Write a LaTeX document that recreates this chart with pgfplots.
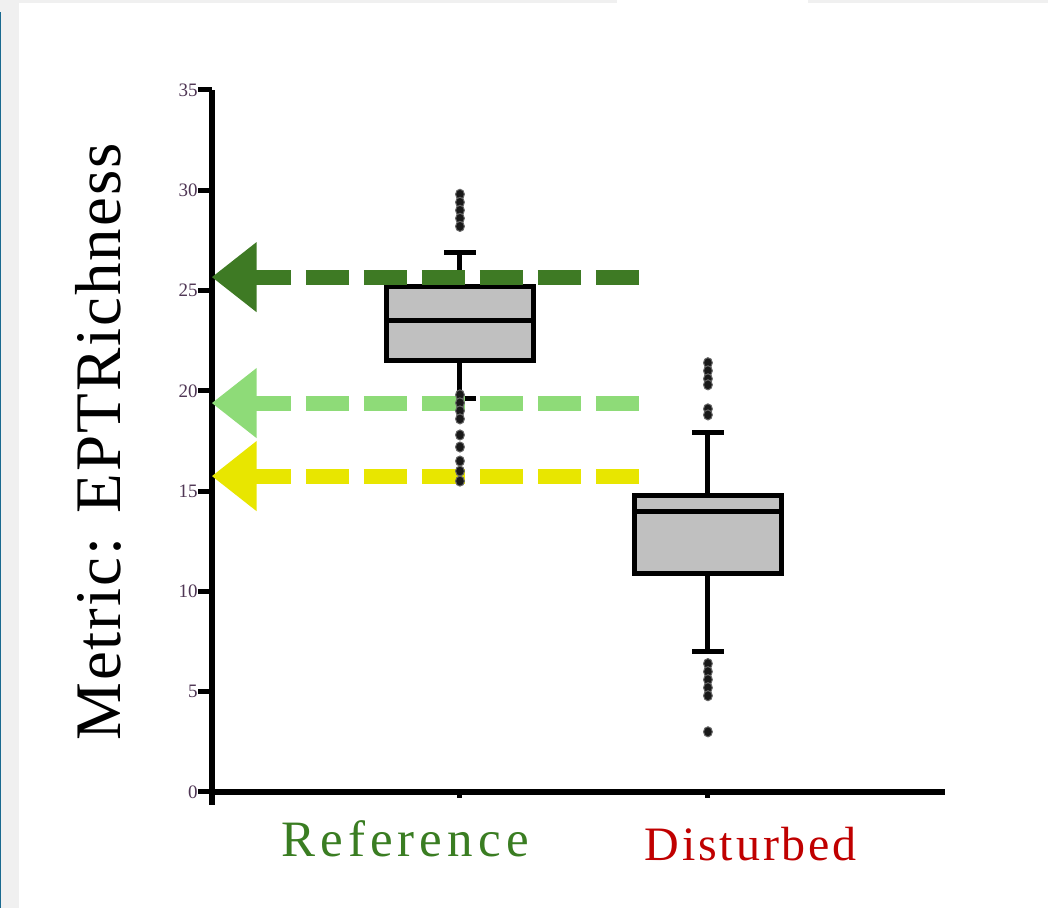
\documentclass[border=0pt]{standalone}
\usepackage{pgfplots}
\pgfplotsset{compat=1.18}
\usepackage{fontspec}
\setmainfont{Liberation Serif}
\definecolor{dkgreen}{RGB}{62,122,36}
\definecolor{ltgreen}{RGB}{142,219,120}
\definecolor{ylw}{RGB}{232,230,0}
\definecolor{refgreen}{RGB}{58,125,34}
\definecolor{disred}{RGB}{192,0,0}
\definecolor{boxgray}{RGB}{192,192,192}
\definecolor{tickcol}{RGB}{80,55,85}
\definecolor{frameblue}{RGB}{26,106,144}
\definecolor{framegray}{RGB}{240,240,240}
\begin{document}
\begin{tikzpicture}[x=1pt,y=1pt]
\useasboundingbox (0,0) rectangle (524,454);
\fill[white] (0,0) rectangle (524,454);
\fill[framegray] (0,0) rectangle (9.5,454);
\fill[framegray] (9.5,452.5) rectangle (308.5,454);
\fill[framegray] (404,452.5) rectangle (524,454);
\fill[frameblue] (0,0) rectangle (0.7,448);
\node[rotate=90, anchor=base, inner sep=0pt] at (60,233)
  {\fontsize{32.5}{36}\selectfont\addfontfeature{LetterSpace=3}Metric: EPTRichness};
\begin{axis}[
  at={(106pt,58pt)}, anchor=south west,
  scale only axis, width=366.5pt, height=351pt,
  xmin=0, xmax=2.956, ymin=0, ymax=35,
  axis lines*=left,
  axis line style={line width=2.7pt, black},
  ytick={0,5,...,35}, xtick=\empty,
  major tick length=7pt,
  tick align=outside,
  tick style={line width=2.5pt, black},
  yticklabel style={font=\fontsize{9.5}{9.5}\selectfont, inner sep=0pt, text=tickcol},
  /pgf/number format/assume math mode=true,
  clip=false,
]
% ---- Reference box (pos 1): lw 19.6, q1 21.5, med 23.5, q3 25.2, uw 26.9
\addplot[draw=black, line width=2.5pt] coordinates {(1,25.2) (1,26.9)};
\addplot[draw=black, line width=2.5pt] coordinates {(1,21.5) (1,19.6)};
\addplot[draw=black, line width=2.5pt] coordinates {(0.936,26.9) (1.064,26.9)};
\addplot[draw=black, line width=2.5pt] coordinates {(0.936,19.6) (1.064,19.6)};
\addplot[fill=boxgray, draw=black, line width=2.5pt] coordinates {(0.705,21.5) (1.295,21.5) (1.295,25.2) (0.705,25.2)} -- cycle;
\addplot[draw=black, line width=2.5pt] coordinates {(0.705,23.5) (1.295,23.5)};
\addplot[only marks, mark=*, mark size=2.2pt, mark options={fill=black!90, draw=black!60, line width=0.5pt, yscale=1.15}]
  coordinates {(1,29.8) (1,29.4) (1,29.0) (1,28.6) (1,28.2)
               (1,19.8) (1,19.4) (1,19.0) (1,18.6)
               (1,17.8) (1,17.2) (1,16.5) (1,16.0) (1,15.5)};
% ---- Disturbed box (pos 2): lw 6.98, q1 10.87, med 13.96, q3 14.8, uw 17.9
\addplot[draw=black, line width=2.5pt] coordinates {(2,14.8) (2,17.9)};
\addplot[draw=black, line width=2.5pt] coordinates {(2,10.87) (2,6.98)};
\addplot[draw=black, line width=2.5pt] coordinates {(1.936,17.9) (2.064,17.9)};
\addplot[draw=black, line width=2.5pt] coordinates {(1.936,6.98) (2.064,6.98)};
\addplot[fill=boxgray, draw=black, line width=2.5pt] coordinates {(1.705,10.87) (2.295,10.87) (2.295,14.8) (1.705,14.8)} -- cycle;
\addplot[draw=black, line width=2.5pt] coordinates {(1.705,13.96) (2.295,13.96)};
\addplot[only marks, mark=*, mark size=2.2pt, mark options={fill=black!90, draw=black!60, line width=0.5pt, yscale=1.15}]
  coordinates {(2,21.4) (2,21.0) (2,20.6) (2,20.3) (2,19.1) (2,18.8)
               (2,6.4) (2,6.0) (2,5.6) (2,5.2) (2,4.8) (2,3.0)};
% dashed reference lines
\addplot[draw=dkgreen, line width=7.5pt, dash pattern=on 21.5pt off 7.5pt] coordinates {(0.145,25.67) (1.722,25.67)};
\addplot[draw=ltgreen, line width=7.5pt, dash pattern=on 21.5pt off 7.5pt] coordinates {(0.145,19.39) (1.722,19.39)};
\addplot[draw=ylw, line width=7.5pt, dash pattern=on 21.5pt off 7.5pt] coordinates {(0.145,15.75) (1.722,15.75)};
% arrow heads
\addplot[fill=dkgreen, draw=none] coordinates {(0,25.67) (0.18,27.42) (0.18,23.92)} -- cycle;
\addplot[fill=ltgreen, draw=none] coordinates {(0,19.39) (0.18,21.14) (0.18,17.64)} -- cycle;
\addplot[fill=ylw, draw=none] coordinates {(0,15.75) (0.18,17.5) (0.18,14.0)} -- cycle;
% axis decorations
\draw[line width=2.7pt, black] (axis cs:0,0.2) -- ++(0,-8.5pt);
\draw[line width=2.5pt, black] (axis cs:1,0) -- ++(0,-3pt);
\draw[line width=2.5pt, black] (axis cs:2,0) -- ++(0,-3pt);
% category labels
\node[anchor=base, inner sep=0pt, text=refgreen] at (axis cs:0.778,-3.24)
  {\fontsize{25.5}{28}\selectfont\addfontfeature{LetterSpace=10}Reference};
\node[anchor=base, inner sep=0pt, text=disred] at (axis cs:2.173,-3.44)
  {\fontsize{24}{28}\selectfont\addfontfeature{LetterSpace=6}Disturbed};
\end{axis}
\end{tikzpicture}
\end{document}
